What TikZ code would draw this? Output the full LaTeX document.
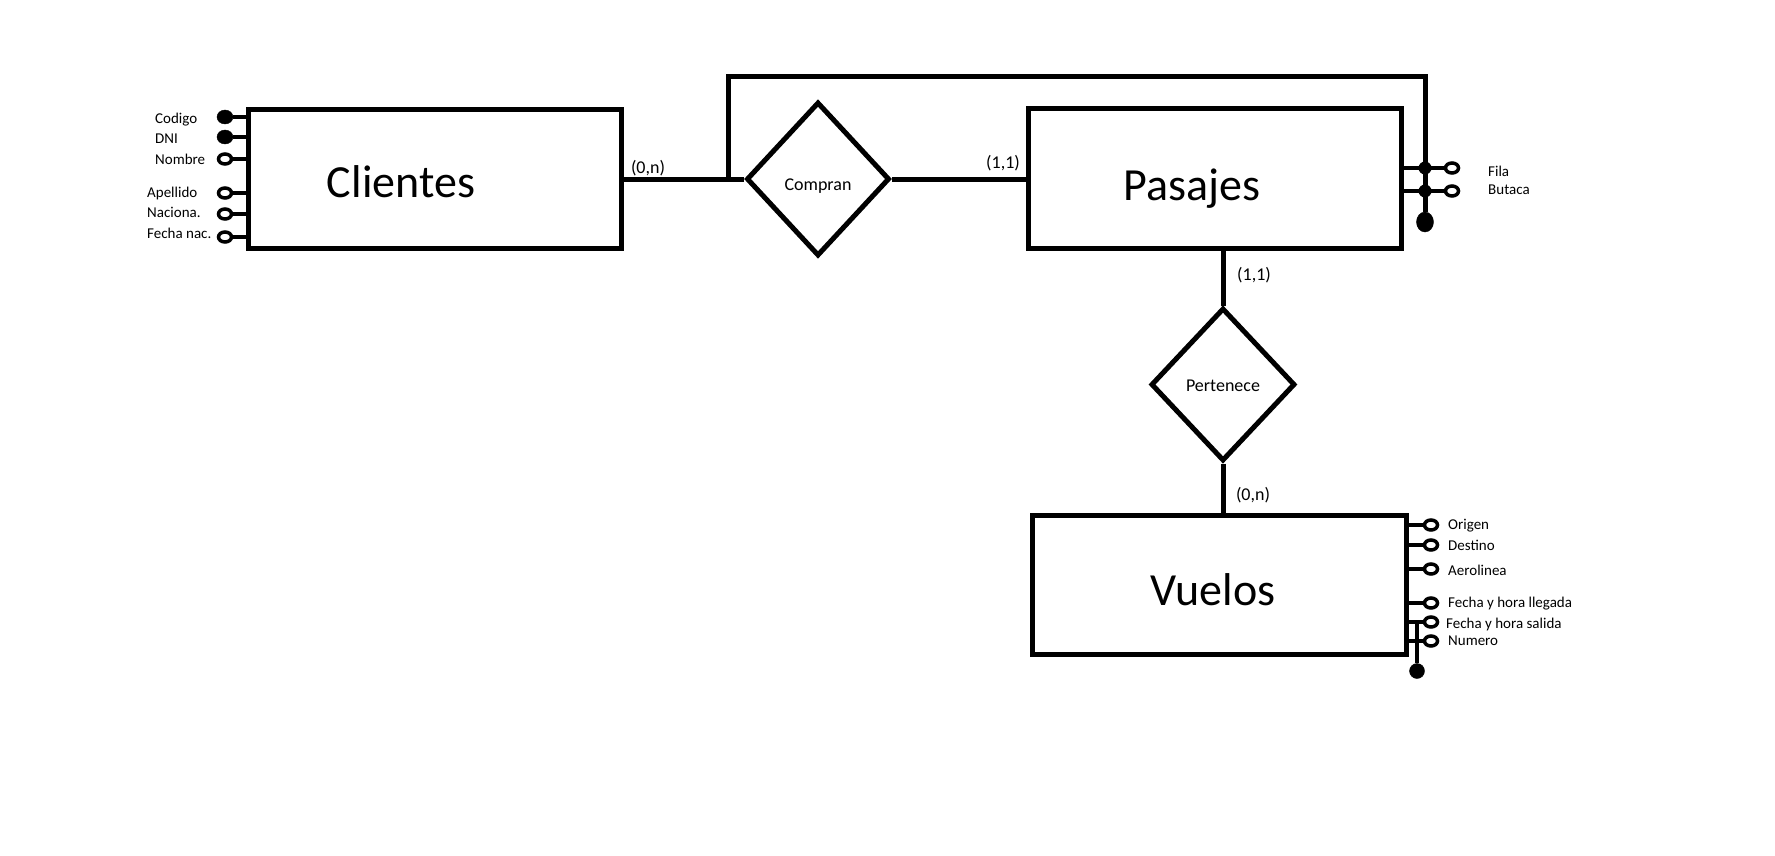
\documentclass[tikz,border=0pt]{standalone}
\usepackage{fontspec}
\setmainfont{Carlito}
\usetikzlibrary{shapes.geometric}
\begin{document}
\begin{tikzpicture}[x=1pt,y=-1pt,
  ent/.style={draw, line width=5pt, rectangle, inner sep=0pt},
  rel/.style={draw, diamond, line width=5pt, inner sep=0pt, font=\fontsize{18}{21}\selectfont},
  conn/.style={line width=5pt},
  attl/.style={line width=4pt},
  ao/.style={draw, ellipse, line width=3.5pt, minimum width=13pt, minimum height=10pt, inner sep=0pt, fill=white},
  af/.style={draw, ellipse, fill=black, minimum width=16pt, minimum height=14pt, inner sep=0pt},
  jd/.style={circle, fill=black, minimum size=13pt, inner sep=0pt},
  lbl/.style={anchor=west, inner sep=0pt, font=\fontsize{15}{17}\selectfont},
  card/.style={inner sep=0pt, font=\fontsize{18}{21}\selectfont},
  ttl/.style={inner sep=0pt, font=\fontsize{46}{55}\selectfont}]
\fill[white] (0,0) rectangle (1775,856);
\useasboundingbox (0,0) rectangle (1775,856);

% entities
\node[ent, minimum width=373pt, minimum height=139pt] (cl) at (434.5,179) {};
\node[ent, minimum width=373pt, minimum height=139pt] (pa) at (1214.5,178.5) {};
\node[ent, minimum width=374pt, minimum height=139pt] (vu) at (1219,584.5) {};
\node[ttl] (clt) at (401,182) {Clientes};
\node[ttl] (pat) at (1192,189) {Pasajes};
\node[ttl] (vut) at (1213,590) {Vuelos};

% relations
\node[rel, minimum width=143pt, minimum height=154pt] (co) at (818,179) {};
\node[font=\fontsize{18}{21}\selectfont, inner sep=0pt] (cot) at (818,186) {Compran};
\node[rel, minimum width=144pt, minimum height=153pt] (pe) at (1223,384.5) {};
\node[font=\fontsize{18}{21}\selectfont, inner sep=0pt] (pet) at (1223,386) {Pertenece};

% connectors
\draw[conn] (cl.east) -- (co.west);
\draw[conn] (co.east) -- (co.east -| pa.west);
\draw[conn] (pe.north) -- (pe.north |- pa.south);
\draw[conn] (pe.south) -- (pe.south |- vu.north);

% identifier loop of Pasajes
\coordinate (tl) at (728,179);
\coordinate (tr) at (1425,77);
\node[af, minimum width=17pt, minimum height=20pt] (pk) at (1425,222) {};
\draw[conn] (tl) -- (tl |- tr) -- (tr) -- (pk);

% cardinalities
\node[card] (c1) at (648,168) {(0,n)};
\node[card] (c2) at (1003,163) {(1,1)};
\node[card] (c3) at (1254,275) {(1,1)};
\node[card] (c4) at (1253,495) {(0,n)};

% Clientes attributes
\node[af] (a1) at (225,117) {};
\node[af] (a2) at (225,137) {};
\node[ao] (a3) at (225,159) {};
\node[ao] (a4) at (225,193) {};
\node[ao] (a5) at (225,214) {};
\node[ao] (a6) at (225,237) {};
\foreach \n in {a1,a2,a3,a4,a5,a6} \draw[attl] (\n) -- (\n -| cl.west);
\node[lbl] (l1) at (155,120) {Codigo};
\node[lbl] (l2) at (155,139) {DNI};
\node[lbl] (l3) at (155,159) {Nombre};
\node[lbl] (l4) at (147,194) {Apellido};
\node[lbl] (l5) at (147,212) {Naciona.};
\node[lbl] (l6) at (147,233) {Fecha nac.};

% Pasajes attributes
\node[ao] (p1) at (1452,168) {};
\node[ao] (p2) at (1452,191) {};
\draw[attl] (p1) -- (p1 -| pa.east);
\draw[attl] (p2) -- (p2 -| pa.east);
\node[jd] (j1) at (1425,168) {};
\node[jd] (j2) at (1425,191) {};
\node[lbl] (pl1) at (1488,171) {Fila};
\node[lbl] (pl2) at (1488,190) {Butaca};

% Vuelos attributes
\node[ao] (v1) at (1431,525) {};
\node[ao] (v2) at (1431,545) {};
\node[ao] (v3) at (1431,569) {};
\node[ao] (v4) at (1431,603) {};
\node[ao] (v5) at (1431,622) {};
\node[ao] (v6) at (1431,641) {};
\foreach \n in {v1,v2,v3,v4,v5,v6} \draw[attl] (\n) -- (\n -| vu.east);
\coordinate (vs) at (1417,622);
\node[af, minimum width=15pt, minimum height=15pt] (vk) at (1417,671) {};
\draw[attl] (vs) -- (vk);
\node[lbl] (vl1) at (1448,526) {Origen};
\node[lbl] (vl2) at (1448,545) {Destino};
\node[lbl] (vl3) at (1448,570) {Aerolinea};
\node[lbl] (vl4) at (1448,604) {Fecha y hora llegada};
\node[lbl] (vl5) at (1446,624) {Fecha y hora salida};
\node[lbl] (vl6) at (1448,641) {Numero};
\end{tikzpicture}
\end{document}
